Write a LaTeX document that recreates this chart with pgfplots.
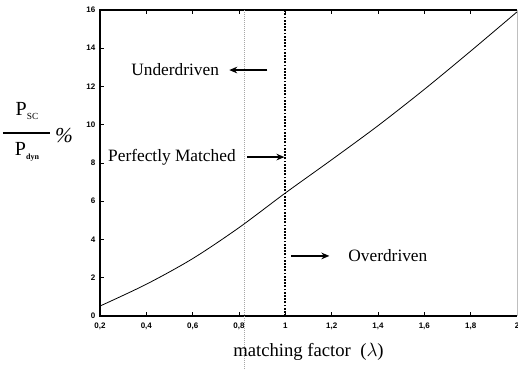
\documentclass[border=0pt]{standalone}
\usepackage{fontspec}
\setmainfont{Liberation Serif}
\newfontfamily\tickfont{Liberation Sans}
\usepackage{pgfplots}
\pgfplotsset{compat=1.18}
\usetikzlibrary{arrows.meta}
\begin{document}
\begin{tikzpicture}
\begin{axis}[
  scale only axis,
  width=312.75pt, height=229.5pt,
  xmin=0.2, xmax=2, ymin=0, ymax=16,
  xtick={0.2,0.4,...,2.0}, ytick={0,2,...,16},
  ytick pos=left,
  tick align=inside,
  major tick length=3pt,
  tick style={black, line width=0.6pt},
  axis line style={draw=none},
  /pgf/number format/assume math mode=true,
  /pgf/number format/use comma,
  tick label style={font=\tickfont\bfseries\fontsize{6}{7}\selectfont},
  xticklabel style={yshift=-2pt},
  clip=false,
  xlabel={matching factor\ \ ($\lambda$)},
  xlabel style={font=\fontsize{14}{16}\selectfont, at={(axis description cs:0.5,0)}, anchor=center, yshift=-27pt},
]
\draw[black, line width=1.3pt] (rel axis cs:1,1) -- (rel axis cs:0,1) -- (rel axis cs:0,0) -- (rel axis cs:1,0);
\draw[gray!50, line width=0.5pt] (rel axis cs:1,0) -- (rel axis cs:1,1);
\addplot[black, line width=0.6pt, smooth, tension=0.5] coordinates {
 (0.2,0.52) (0.4,1.66) (0.6,3.0) (0.8,4.62) (1.0,6.43) (1.2,8.17) (1.4,9.95) (1.6,11.85) (1.8,13.85) (2.0,15.9)};
\addplot[black, densely dotted, line width=1.4pt] coordinates {(1,0) (1,16)};
\draw[gray!70, densely dotted, line width=0.5pt] (axis cs:0.823,16) -- (axis cs:0.823,-3);
\node[anchor=west, font=\fontsize{13}{15}\selectfont] at (axis cs:0.315,12.86) {Underdriven};
\node[anchor=west, font=\fontsize{13}{15}\selectfont] at (axis cs:0.215,8.31) {Perfectly Matched};
\node[anchor=west, font=\fontsize{13}{15}\selectfont] at (axis cs:1.252,3.14) {Overdriven};
\draw[-{Stealth[length=6pt,width=5pt]}, line width=1pt] (axis cs:0.922,12.86) -- (axis cs:0.758,12.86);
\draw[-{Stealth[length=6pt,width=5pt]}, line width=1pt] (axis cs:0.836,8.31) -- (axis cs:0.996,8.31);
\draw[-{Stealth[length=6pt,width=5pt]}, line width=1pt] (axis cs:1.025,3.14) -- (axis cs:1.19,3.14);
\end{axis}
\node[font=\fontsize{15}{17}\selectfont, inner sep=0pt] at (-54.75pt,154pt) {P\raisebox{-3pt}{\fontsize{7}{8}\selectfont SC}};
\draw[line width=1.4pt] (-72.75pt,137.5pt) -- (-37.5pt,137.5pt);
\node[font=\fontsize{15}{17}\selectfont, inner sep=0pt] at (-54.75pt,123pt) {P\raisebox{-3pt}{\fontsize{6}{7}\selectfont\bfseries dyn}};
\node[font=\fontsize{16}{18}\selectfont\itshape, inner sep=0pt] at (-27pt,135pt) {\%};
\pgfresetboundingbox
\useasboundingbox (-75pt,-40.5pt) rectangle (313.5pt,237pt);
\end{tikzpicture}
\end{document}
